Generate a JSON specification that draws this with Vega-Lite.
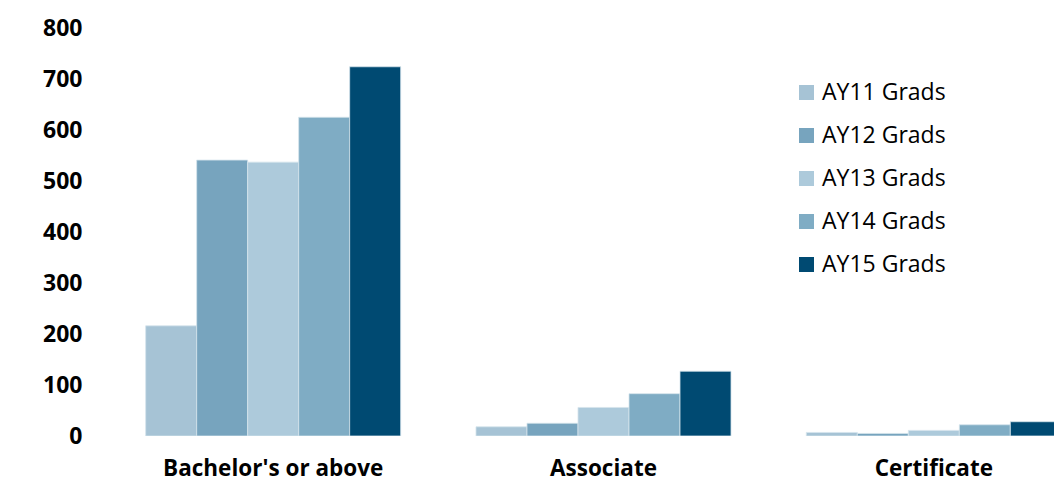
{
  "$schema": "https://vega.github.io/schema/vega-lite/v6.json",
  "autosize": {"type": "none"},
  "padding": {"left": 108, "top": 28, "right": 0, "bottom": 46},
  "width": 946,
  "height": 408,
  "background": "white",
  "data": {
    "values": [
      {"category": "Bachelor's or above", "series": "AY11 Grads", "value": 216},
      {"category": "Bachelor's or above", "series": "AY12 Grads", "value": 541},
      {"category": "Bachelor's or above", "series": "AY13 Grads", "value": 537},
      {"category": "Bachelor's or above", "series": "AY14 Grads", "value": 625},
      {"category": "Bachelor's or above", "series": "AY15 Grads", "value": 724},
      {"category": "Associate", "series": "AY11 Grads", "value": 18},
      {"category": "Associate", "series": "AY12 Grads", "value": 25},
      {"category": "Associate", "series": "AY13 Grads", "value": 56},
      {"category": "Associate", "series": "AY14 Grads", "value": 83},
      {"category": "Associate", "series": "AY15 Grads", "value": 127},
      {"category": "Certificate", "series": "AY11 Grads", "value": 7},
      {"category": "Certificate", "series": "AY12 Grads", "value": 5},
      {"category": "Certificate", "series": "AY13 Grads", "value": 11},
      {"category": "Certificate", "series": "AY14 Grads", "value": 22},
      {"category": "Certificate", "series": "AY15 Grads", "value": 28}
    ]
  },
  "mark": {"type": "bar", "clip": true, "stroke": "#D6E4EC", "strokeWidth": 0.8},
  "encoding": {
    "x": {
      "field": "category",
      "type": "nominal",
      "sort": ["Bachelor's or above", "Associate", "Certificate"],
      "scale": {"range": [0, 991], "paddingInner": 0.228, "paddingOuter": 0.114},
      "axis": {
        "title": null,
        "labelAngle": 0,
        "ticks": false,
        "domain": false,
        "labelLimit": 0,
        "labelFont": "Open Sans",
        "labelFontWeight": "bold",
        "labelFontSize": 22.5,
        "labelColor": "#000000",
        "labelPadding": 21
      }
    },
    "xOffset": {
      "field": "series",
      "type": "nominal",
      "scale": {"paddingInner": 0, "paddingOuter": 0}
    },
    "y": {
      "field": "value",
      "type": "quantitative",
      "scale": {"domain": [0, 800], "nice": false},
      "axis": {
        "title": null,
        "values": [0, 100, 200, 300, 400, 500, 600, 700, 800],
        "grid": false,
        "ticks": false,
        "domain": false,
        "labelFont": "Open Sans",
        "labelFontWeight": "bold",
        "labelFontSize": 23,
        "labelColor": "#000000",
        "labelPadding": 26
      }
    },
    "color": {
      "field": "series",
      "type": "nominal",
      "scale": {
        "domain": ["AY11 Grads", "AY12 Grads", "AY13 Grads", "AY14 Grads", "AY15 Grads"],
        "range": ["#A6C3D5", "#77A4BE", "#ADCADB", "#7FACC4", "#004A72"]
      },
      "legend": {
        "title": null,
        "orient": "none",
        "legendX": 687,
        "legendY": 53,
        "padding": 0,
        "symbolType": "square",
        "symbolSize": 225,
        "symbolStrokeWidth": 0,
        "symbolOpacity": 1,
        "labelFont": "Open Sans",
        "labelFontSize": 23,
        "labelColor": "#000000",
        "labelOffset": 4,
        "labelLimit": 0,
        "rowPadding": 19
      }
    }
  },
  "config": {"view": {"stroke": null}}
}
